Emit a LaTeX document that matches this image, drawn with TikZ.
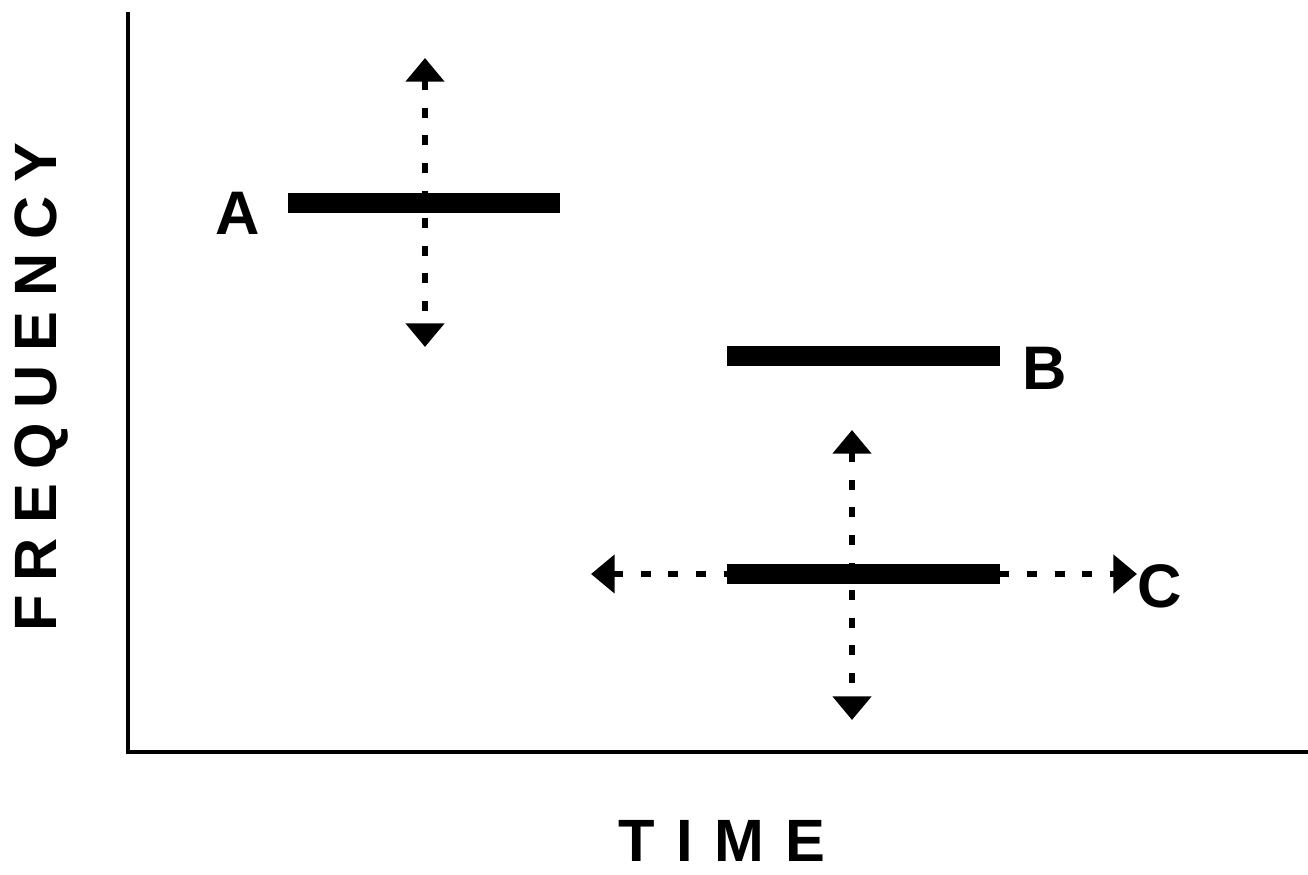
\documentclass[tikz,border=0pt]{standalone}
\usepackage{fontspec}
\setmainfont{Liberation Sans}
\newfontfamily\ylabfont{Liberation Sans}[LetterSpace=24]
\newfontfamily\xlabfont{Liberation Sans}[LetterSpace=36]
\usetikzlibrary{arrows.meta}
\begin{document}
\begin{tikzpicture}[x=0.02cm,y=-0.02cm,
  axisline/.style={line width=2.3pt},
  bar/.style={line width=11.5pt},
  tipshape/.tip={Triangle[width=21.5pt,length=13.5pt]},
  move/.style={line width=3.8pt, dash pattern=on 5.7pt off 10pt, tipshape-tipshape},
  lbl/.style={font=\fontsize{35}{35}\selectfont\bfseries, inner sep=0pt},
  axlbl/.style={inner sep=0pt}]
\useasboundingbox (0,0) rectangle (1308,875);
% axes
\coordinate (ytop) at (128,12);
\coordinate (origin) at (128,752);
\coordinate (xend) at (1308,752);
\draw[axisline] (ytop) -- (origin) -- (xend);
\node[axlbl, rotate=90] (ylab) at (42,387) {\ylabfont\fontsize{34}{34}\selectfont\bfseries FREQUENCY};
\node[axlbl] (xlab) at (722,841) {\xlabfont\fontsize{34}{34}\selectfont\bfseries TIME};
% bar A
\coordinate (a1) at (288,203);
\coordinate (a2) at (560,203);
\coordinate (aup) at (425,58);
\coordinate (adn) at (425,347);
\draw[move] (aup) -- (adn);
\draw[bar] (a1) -- (a2);
\node[lbl] (A) at (238,213) {A};
% bar B
\coordinate (b1) at (727,356);
\coordinate (b2) at (1000,356);
\draw[bar] (b1) -- (b2);
\node[lbl] (B) at (1045,368) {B};
% bar C
\coordinate (c1) at (727,574);
\coordinate (c2) at (1000,574);
\coordinate (cup) at (852,430);
\coordinate (cdn) at (852,720);
\coordinate (cl) at (591,574);
\coordinate (cr) at (1137,574);
\draw[move] (cup) -- (cdn);
\draw[move] (cl) -- (cr);
\draw[bar] (c1) -- (c2);
\node[lbl] (C) at (1160,586) {C};
\end{tikzpicture}
\end{document}
